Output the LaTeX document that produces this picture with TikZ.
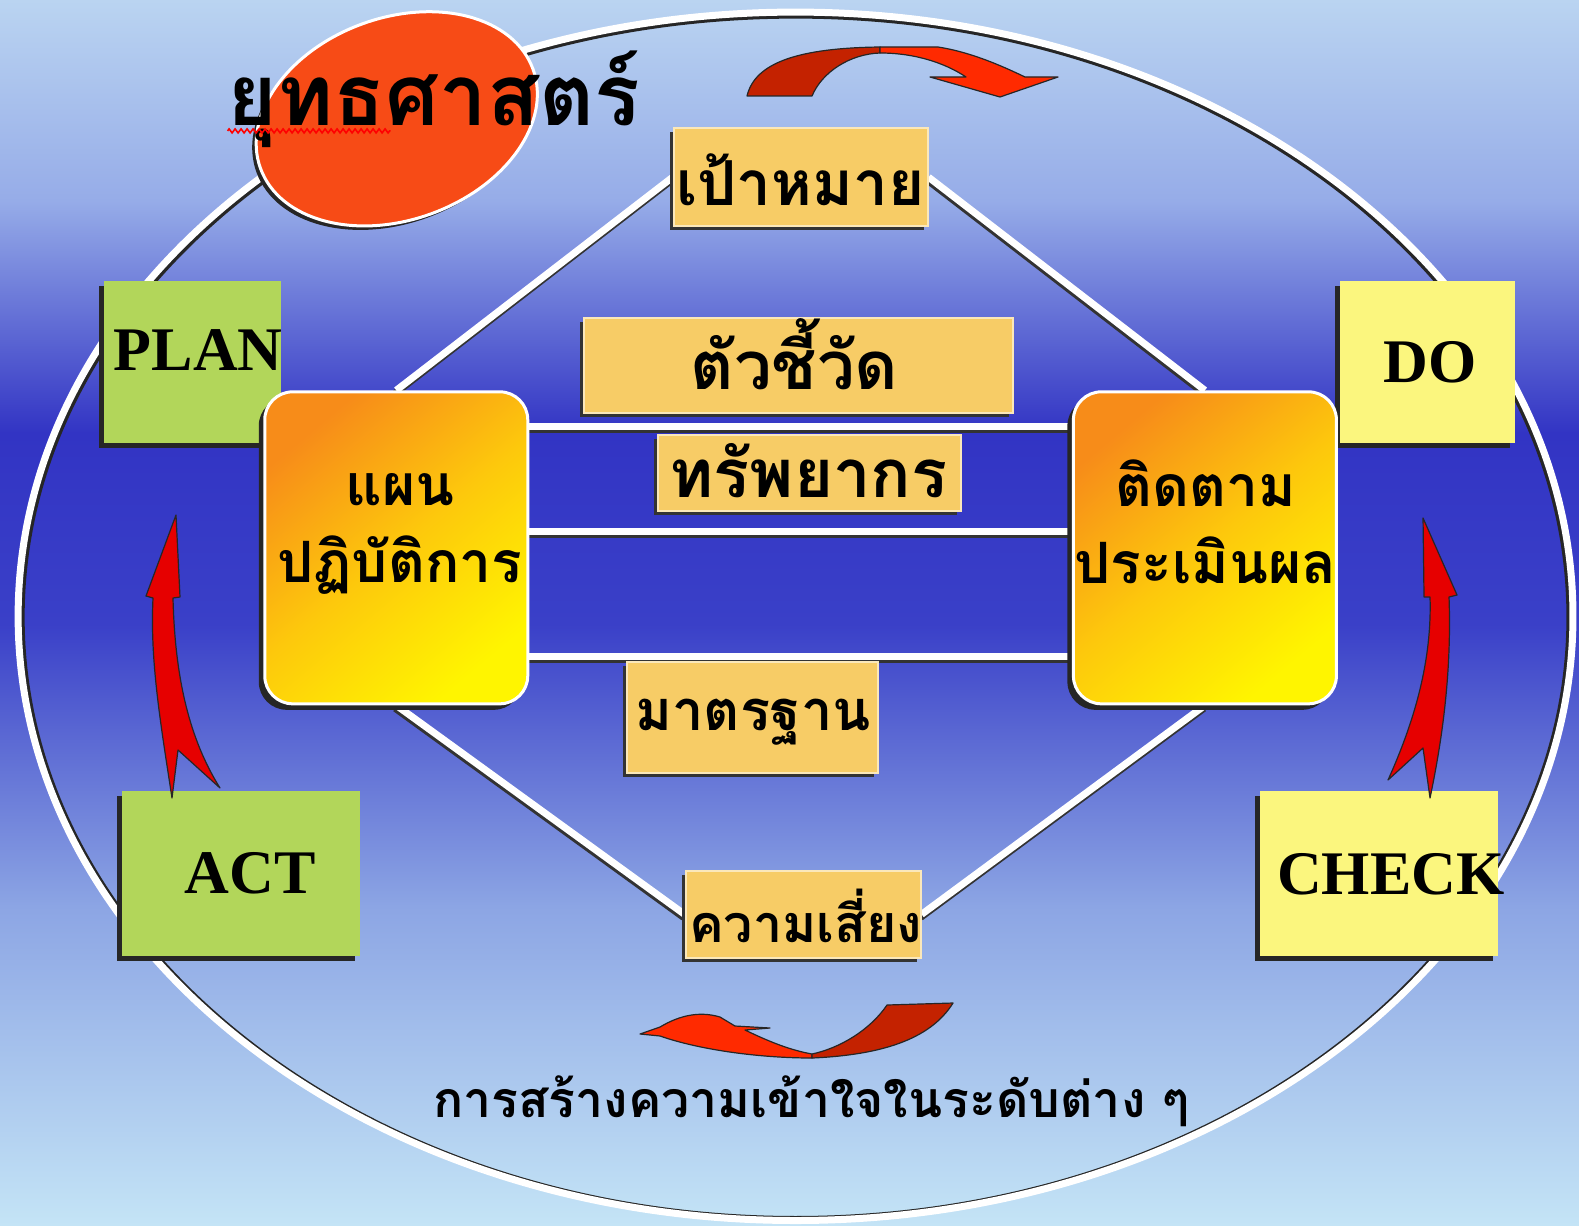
\documentclass[tikz,border=0pt]{standalone}
\usepackage{fontspec}
\newfontfamily\thai[Script=Thai]{Loma}
\newfontfamily\eng{Liberation Serif}
\usetikzlibrary{shapes.geometric,shadows,decorations.pathmorphing}
\pgfdeclarelayer{bg}
\pgfsetlayers{bg,main}
\definecolor{labc}{RGB}{247,204,102}
\definecolor{grn}{RGB}{178,214,90}
\definecolor{ylw}{RGB}{251,246,126}
\definecolor{orgA}{RGB}{247,140,25}
\definecolor{orgM}{RGB}{253,200,12}
\definecolor{orgB}{RGB}{255,245,0}
\definecolor{strat}{RGB}{247,75,22}
\definecolor{redA}{RGB}{230,0,0}
\definecolor{redD}{RGB}{196,34,0}
\definecolor{redB}{RGB}{255,42,0}
\definecolor{bg0}{RGB}{186,212,241}
\definecolor{bg1}{RGB}{150,172,232}
\definecolor{bg2}{RGB}{50,52,196}
\definecolor{bg3}{RGB}{58,64,200}
\definecolor{bg4}{RGB}{140,165,228}
\definecolor{bg5}{RGB}{196,228,246}
\begin{document}
\begin{tikzpicture}[x=1.00701pt,y=-1.00701pt,
  pdca/.style={draw=none, inner sep=0pt, drop shadow={shadow xshift=-5pt, shadow yshift=-5pt, opacity=1, fill=black!85}},
  engtxt/.style={font=\eng\bfseries\fontsize{62}{62}\selectfont, inner sep=0pt, anchor=base west},
  rbox/.style={rounded corners=28pt, draw=white, line width=3pt, inner sep=0pt, minimum width=263, minimum height=312,
    shading=axis, top color=orgA, bottom color=orgB, middle color=orgM, shading angle=40,
    drop shadow={shadow xshift=-6pt, shadow yshift=-6pt, opacity=1, fill=black!85}},
  lab/.style={fill=labc, draw=white!55!labc, line width=2pt, inner sep=0pt,
    drop shadow={shadow xshift=-4pt, shadow yshift=-4pt, opacity=1, fill=black!80}},
  thtxt/.style={font=\thai\bfseries\fontsize{#1}{#1}\selectfont, inner sep=0pt},
  wline/.style={draw=white, line width=7pt},
  sline/.style={draw=black!80, line width=7pt},
  redarrow/.style={draw=black!85, line width=1.2pt, line join=round}
]
\useasboundingbox (0,0) rectangle (1568,1216.5);
% ---------- nodes ----------
\node[pdca, fill=grn, minimum width=177, minimum height=162] (plan) at (191.5,359) {};
\node[pdca, fill=ylw, minimum width=175, minimum height=162] (do) at (1417.5,359) {};
\node[pdca, fill=grn, minimum width=238, minimum height=165] (act) at (239,867.5) {};
\node[pdca, fill=ylw, minimum width=238, minimum height=165] (check) at (1369,867.5) {};
\node[engtxt] (plant) at (113,368) {PLAN};
\node[engtxt] (dot) at (1374,380) {DO};
\node[engtxt] (actt) at (183,887) {ACT};
\node[engtxt] (checkt) at (1268,888) {CHECK};

\node[rbox] (lbox) at (393.5,544) {};
\node[rbox] (rbox) at (1196.5,544) {};
\node[thtxt=57, align=center] (lboxt) at (397,530) {แผน\\[20pt]ปฏิบัติการ};
\node[thtxt=57, align=center] (rboxt) at (1197,518) {ติดตาม\\[20pt]ประเมินผล};

\node[lab, minimum width=254, minimum height=98] (goal) at (795,176) {};
\node[lab, minimum width=429, minimum height=95] (kpi) at (792.5,362.5) {};
\node[lab, minimum width=303, minimum height=76] (res) at (803.5,470) {};
\node[lab, minimum width=251, minimum height=111] (std) at (747.5,712.5) {};
\node[lab, minimum width=235, minimum height=87] (risk) at (797.5,908) {};
\node[thtxt=62] (goalt) at (795,178) {เป้าหมาย};
\node[thtxt=67] (kpit) at (789,352) {ตัวชี้วัด};
\node[thtxt=67] (rest) at (803,467) {ทรัพยากร};
\node[thtxt=56] (stdt) at (748,717) {มาตรฐาน};
\node[thtxt=52] (riskt) at (800,910) {ความเสี่ยง};

\node[ellipse, fill=strat, draw=white, line width=3pt, minimum width=290, minimum height=202, rotate=20,
  drop shadow={shadow xshift=-4pt, shadow yshift=-4pt, opacity=1, fill=black!85}] (stratell) at (394,118) {};
\node[thtxt=85, anchor=base west] (stratt) at (226,125) {ยุทธศาสตร์};
\draw[red, line width=1.6pt, decorate, decoration={zigzag, segment length=6pt, amplitude=2pt}]
  (stratt.base west) ++(0,5) coordinate (zz1) -- ++(162,0) coordinate (zz2);

\node[thtxt=50, anchor=base west] (bottomt) at (430,1110) {การสร้างความเข้าใจในระดับต่าง ๆ};

% ---------- background layer ----------
\begin{pgfonlayer}{bg}
\shade[top color=bg0, bottom color=bg1] (0,0) rectangle (1568,200);
\shade[top color=bg1, bottom color=bg2] (0,199.5) rectangle (1568,430);
\shade[top color=bg2, bottom color=bg3] (0,429.5) rectangle (1568,620);
\shade[top color=bg3, bottom color=bg4] (0,619.5) rectangle (1568,900);
\shade[top color=bg4, bottom color=bg5] (0,899.5) rectangle (1568,1216.5);
% big ellipse
\draw[black!85, line width=5pt] (790,613) ellipse [x radius=768, y radius=597];
\draw[white, line width=7pt] (790,612) ellipse [x radius=772, y radius=600];
% connectors: shadows
\foreach \yy in {424,528,652}{
  \draw[sline] ([yshift=-3pt]lbox.center |- 0,\yy) -- ([yshift=-3pt]rbox.center |- 0,\yy);
}
\draw[sline] ([shift={(-1pt,-3pt)}]lbox.north) -- ([shift={(-1pt,-3pt)}]goal.west);
\draw[sline] ([shift={(-1pt,-3pt)}]goal.east) -- ([shift={(-1pt,-3pt)}]rbox.north);
\draw[sline] ([shift={(-1pt,-3pt)}]lbox.south) -- ([shift={(-1pt,-3pt)}]risk.west);
\draw[sline] ([shift={(-1pt,-3pt)}]risk.east) -- ([shift={(-1pt,-3pt)}]rbox.south);
% connectors
\foreach \yy in {424,528,652}{
  \draw[wline] (lbox.center |- 0,\yy) -- (rbox.center |- 0,\yy);
}
\draw[wline] (lbox.north) -- (goal.west);
\draw[wline] (goal.east) -- (rbox.north);
\draw[wline] (lbox.south) -- (risk.west);
\draw[wline] (risk.east) -- (rbox.south);
\end{pgfonlayer}

% ---------- red arrows (full-size coordinates) ----------
\begin{scope}[scale=0.99304]
% left (ACT -> PLAN)
\filldraw[redarrow, fill=redA] (176,515) -- (180,597) -- (173,598)
  .. controls (175,680) and (190,740) .. (220,788) -- (178,750) -- (172,798)
  .. controls (160,720) and (150,660) .. (153,598) -- (146,596) -- cycle;
% right (CHECK -> DO)
\filldraw[redarrow, fill=redA] (1423,518) -- (1457,595) -- (1449,597)
  .. controls (1452,680) and (1440,750) .. (1430,798) -- (1423,748) -- (1388,780)
  .. controls (1415,720) and (1432,660) .. (1430,597) -- (1424,597) -- cycle;
% top
\filldraw[redarrow, fill=redD] (747,96) .. controls (755,62) and (800,48) .. (880,47)
  -- (880,53) .. controls (850,54) and (822,72) .. (812,96) -- cycle;
\filldraw[redarrow, fill=redB] (880,47) -- (938,47) .. controls (970,52) and (1000,65) .. (1025,77)
  -- (1058,77) -- (1000,97) -- (930,77) -- (966,77) .. controls (945,63) and (915,53) .. (880,53) -- cycle;
% bottom
\filldraw[redarrow, fill=redB] (640,1034) -- (660,1027) .. controls (680,1015) and (700,1011) .. (720,1017)
  -- (735,1026) -- (770,1028) -- (745,1030) .. controls (770,1042) and (790,1050) .. (812,1054)
  -- (812,1058) .. controls (760,1058) and (700,1050) .. (660,1036) -- cycle;
\filldraw[redarrow, fill=redD] (812,1058) .. controls (880,1055) and (930,1040) .. (953,1003)
  -- (887,1005) .. controls (870,1030) and (840,1048) .. (812,1054) -- cycle;
\end{scope}
\end{tikzpicture}
\end{document}
